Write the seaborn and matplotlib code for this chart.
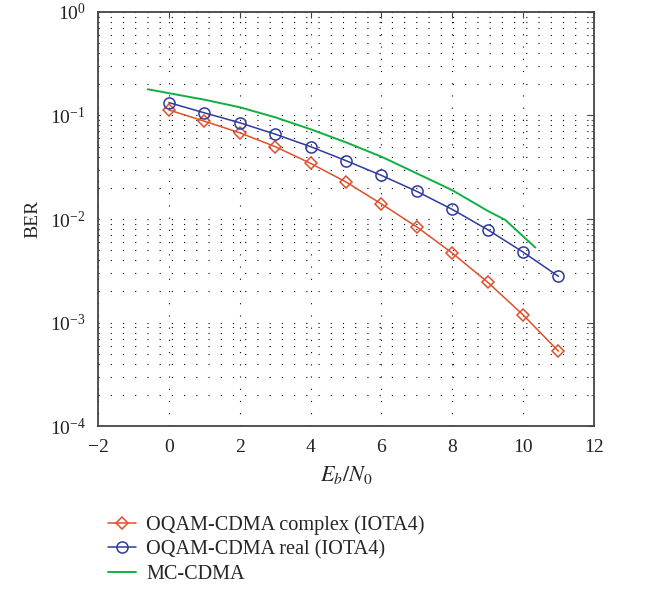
import numpy as np
import pandas as pd
import matplotlib
matplotlib.use('Agg')
import matplotlib.pyplot as plt
import seaborn as sns
from matplotlib.ticker import LogLocator

# Eb/N0 values (dB) and BER curves
ebn0 = [0, 1, 2, 3, 4, 5, 6, 7, 8, 9, 10, 11]
ber_complex = [0.113, 0.088, 0.068, 0.050, 0.0345, 0.0228, 0.0140,
               0.0084, 0.0047, 0.00246, 0.00119, 0.00053]
ber_real = [0.133, 0.106, 0.085, 0.066, 0.050, 0.0366, 0.0264,
            0.0185, 0.0124, 0.0079, 0.0048, 0.0028]
ebn0_mc = [-0.6, 0, 1, 2, 3, 4, 5, 6, 7, 8, 9, 9.5, 10.35]
ber_mc = [0.179, 0.164, 0.142, 0.120, 0.096, 0.0736, 0.055, 0.040,
          0.0276, 0.019, 0.012, 0.0098, 0.0053]

labels = ['OQAM-CDMA complex (IOTA4)', 'OQAM-CDMA real (IOTA4)', 'MC-CDMA']
colors = ['#e0502a', '#2e3a9e', '#10b040']

sns.set_style('white')
plt.rcParams['font.family'] = ['Liberation Serif', 'DejaVu Serif']
plt.rcParams['mathtext.fontset'] = 'stix'

fig = plt.figure(figsize=(6.54, 5.92), dpi=100)
ax = fig.add_axes([0.150, 0.280, 0.758, 0.700])

df_c = pd.DataFrame({'x': ebn0, 'y': ber_complex})
df_r = pd.DataFrame({'x': ebn0, 'y': ber_real})
df_m = pd.DataFrame({'x': ebn0_mc, 'y': ber_mc})

sns.lineplot(data=df_c, x='x', y='y', ax=ax, color=colors[0], lw=1.1,
             marker='D', markersize=6.5, markerfacecolor='none',
             markeredgecolor=colors[0], markeredgewidth=1.1, label=labels[0])
sns.lineplot(data=df_r, x='x', y='y', ax=ax, color=colors[1], lw=1.1,
             marker='o', markersize=8, markerfacecolor='none',
             markeredgecolor=colors[1], markeredgewidth=1.1, label=labels[1])
sns.lineplot(data=df_m, x='x', y='y', ax=ax, color=colors[2], lw=1.4,
             label=labels[2])

ax.set_yscale('log')
ax.set_xlim(-2, 12)
ax.set_ylim(1e-4, 1)
ax.set_xticks(range(-2, 13, 2))
ax.yaxis.set_major_locator(LogLocator(base=10, numticks=10))
ax.yaxis.set_minor_locator(LogLocator(base=10, subs=np.arange(2, 10), numticks=20))

ax.grid(True, which='major', axis='both', color='black', linestyle=(0, (1, 10)), lw=0.8)
ax.grid(True, which='minor', axis='y', color='black', linestyle=(0, (1, 10)), lw=0.8)

for s in ax.spines.values():
    s.set_color('#444444')
    s.set_linewidth(1.3)
ax.tick_params(which='both', direction='in', top=True, right=True,
               labelsize=14, colors='#444444', labelcolor='#222222')
ax.tick_params(which='major', length=4, pad=9)
ax.tick_params(which='minor', length=2.5)

ax.set_xlabel(r'$E_b/N_0$', fontsize=16, labelpad=6)
ax.set_ylabel('BER', fontsize=14, labelpad=6)

handles, labs = ax.get_legend_handles_labels()
ax.get_legend().remove()
fig.legend(handles, labs, loc='upper left', bbox_to_anchor=(0.152, 0.143),
           frameon=False, fontsize=14.6, handlelength=1.4, handletextpad=0.5,
           labelspacing=0.25, borderaxespad=0)

fig.savefig('out.png', dpi=100)
